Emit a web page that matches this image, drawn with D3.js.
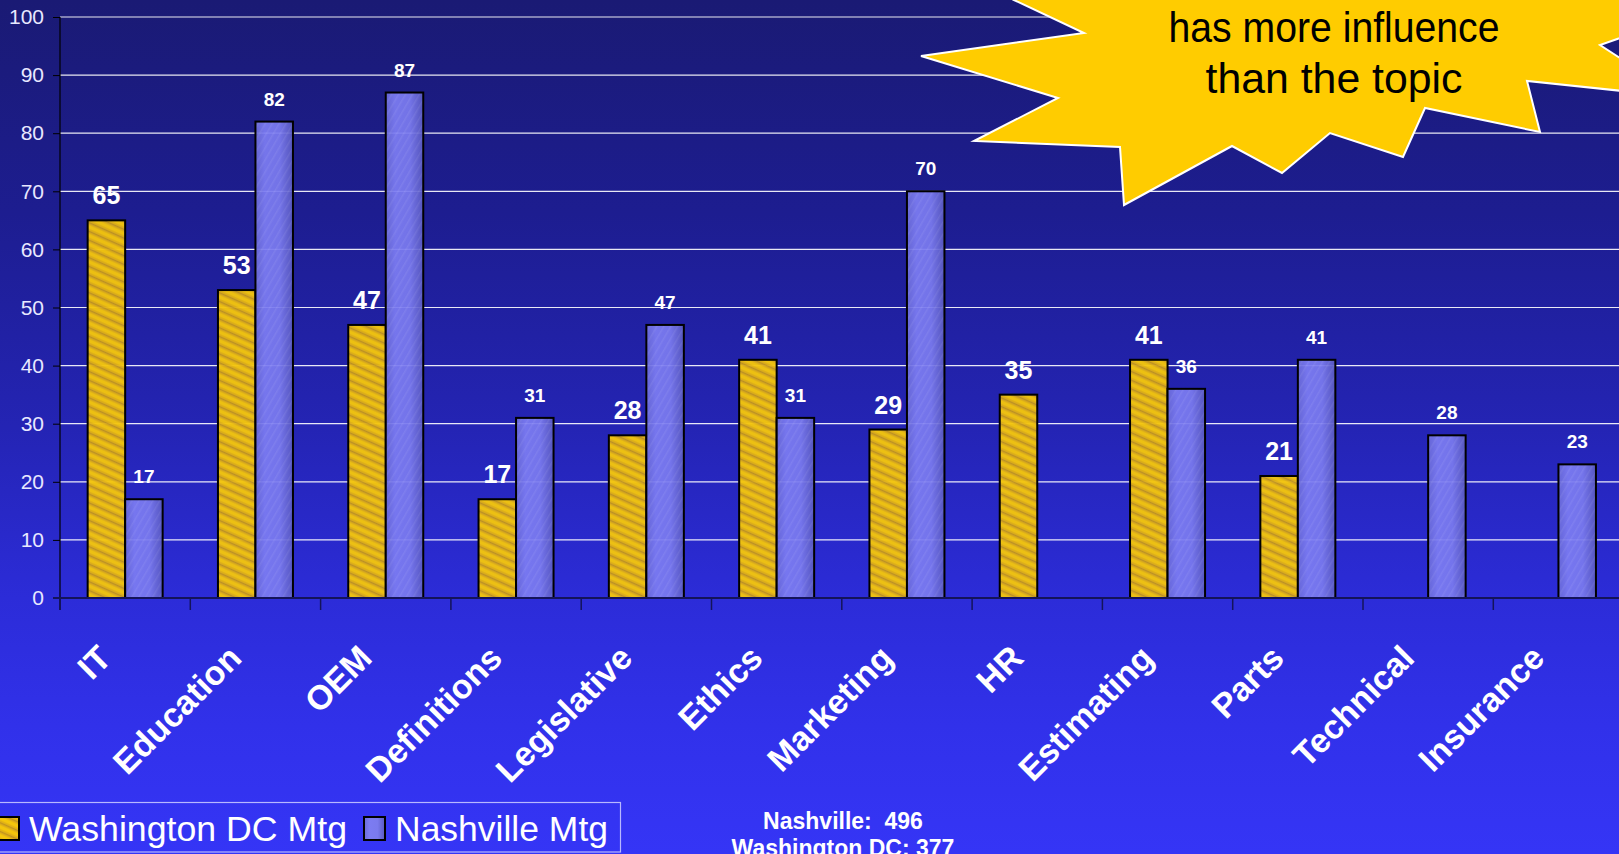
<!DOCTYPE html>
<html>
<head>
<meta charset="utf-8">
<script src="https://cdn.jsdelivr.net/npm/d3@7/dist/d3.min.js"></script>
<style>
  html, body { margin: 0; padding: 0; overflow: hidden; background: #2626c0; }
  svg { display: block; font-family: "Liberation Sans", Arial, sans-serif; }
</style>
</head>
<body>
<svg id="chart" width="1619" height="854"></svg>
<script>
// ---------- data ----------
const categories = ["IT", "Education", "OEM", "Definitions", "Legislative", "Ethics",
                    "Marketing", "HR", "Estimating", "Parts", "Technical", "Insurance"];
const seriesNames = ["Washington DC Mtg", "Nashville Mtg"];
const washingtonValues = [65, 53, 47, 17, 28, 41, 29, 35, 41, 21, null, null];
const nashvilleValues  = [17, 82, 87, 31, 47, 31, 70, null, 36, 41, 28, 23];
const yTicks = [0, 10, 20, 30, 40, 50, 60, 70, 80, 90, 100];
const calloutLines = ["has more influence", "than the topic"];
const totalLines = ["Nashville:  496", "Washington DC: 377"];

// ---------- layout ----------
const W = 1619, H = 854;
const plotLeft = 60, plotTop = 17, plotBottom = 598;
const step = 130.3;
const svg = d3.select("#chart");
const defs = svg.append("defs");

// background gradient
const bg = defs.append("linearGradient").attr("id", "bg").attr("x1", 0).attr("y1", 0).attr("x2", 0).attr("y2", 1);
[[0, "#1a1a74"], [0.25, "#1d1d90"], [0.5, "#2424b4"], [0.7, "#2c2cd8"], [0.85, "#3131ea"], [1, "#3535f6"]]
  .forEach(([o, c]) => bg.append("stop").attr("offset", o).attr("stop-color", c));
svg.append("rect").attr("width", W).attr("height", H).attr("fill", "url(#bg)");

// yellow texture
const yp = defs.append("pattern").attr("id", "yellowTex").attr("patternUnits", "userSpaceOnUse")
  .attr("width", 12).attr("height", 8).attr("patternTransform", "rotate(24)");
yp.append("rect").attr("width", 12).attr("height", 8).attr("fill", "#d8a81a");
yp.append("rect").attr("y", 1.5).attr("width", 12).attr("height", 3.5).attr("fill", "#f4c60c");
yp.append("rect").attr("y", 5).attr("width", 12).attr("height", 1.5).attr("fill", "#e6b612");
yp.append("rect").attr("y", 7).attr("width", 12).attr("height", 1).attr("fill", "#c09420");

// blue gradient + texture
const bgBlue = defs.append("linearGradient").attr("id", "blueGrad").attr("x1", 0).attr("y1", 0).attr("x2", 1).attr("y2", 0);
[[0, "#6a6ad8"], [0.25, "#7c7cf2"], [0.65, "#7a7aee"], [1, "#5959c0"]]
  .forEach(([o, c]) => bgBlue.append("stop").attr("offset", o).attr("stop-color", c));
const bp = defs.append("pattern").attr("id", "blueTex").attr("patternUnits", "userSpaceOnUse")
  .attr("width", 6).attr("height", 6).attr("patternTransform", "rotate(-60)");
bp.append("rect").attr("width", 6).attr("height", 1.5).attr("fill", "#ffffff").attr("opacity", 0.07);

// ---------- scales ----------
const y = d3.scaleLinear().domain([0, 100]).range([plotBottom, plotTop]);
const x0 = d3.scaleBand().domain(categories).range([plotLeft, plotLeft + step * categories.length]).padding(0);
const half = 37.5;
const x1 = d3.scaleBand().domain(seriesNames)
  .range([x0.bandwidth() / 2 - half, x0.bandwidth() / 2 + half]).padding(0);

// gridlines
svg.append("g").selectAll("line").data(yTicks.filter(t => t > 0)).join("line")
  .attr("x1", plotLeft).attr("x2", W)
  .attr("y1", d => y(d)).attr("y2", d => y(d))
  .attr("stroke", "#ffffff").attr("stroke-width", 1.2).attr("opacity", 0.9);

// ---------- bars ----------
const rows = categories.map((c, i) => ({ cat: c, vals: [washingtonValues[i], nashvilleValues[i]] }));
const groups = svg.append("g").selectAll("g").data(rows).join("g")
  .attr("transform", d => `translate(${x0(d.cat)},0)`);

groups.each(function (d) {
  const g = d3.select(this);
  d.vals.forEach((v, si) => {
    if (v == null) return;
    const bx = x1(seriesNames[si]), bw = x1.bandwidth();
    if (si === 0) {
      g.append("rect").attr("x", bx).attr("y", y(v)).attr("width", bw).attr("height", y(0) - y(v))
        .attr("fill", "url(#yellowTex)").attr("fill-opacity", 0.96);
    } else {
      g.append("rect").attr("x", bx).attr("y", y(v)).attr("width", bw).attr("height", y(0) - y(v))
        .attr("fill", "url(#blueGrad)").attr("fill-opacity", 0.93);
      g.append("rect").attr("x", bx).attr("y", y(v)).attr("width", bw).attr("height", y(0) - y(v))
        .attr("fill", "url(#blueTex)");
    }
    g.append("rect").attr("x", bx).attr("y", y(v)).attr("width", bw).attr("height", y(0) - y(v))
      .attr("fill", "none").attr("stroke", "#000").attr("stroke-width", 2);
    g.append("text")
      .attr("x", bx + bw / 2).attr("y", y(v) - 16)
      .attr("text-anchor", "middle").attr("fill", "#fff").attr("font-weight", "bold")
      .attr("font-size", si === 0 ? 25 : 19)
      .text(v);
  });
});

// ---------- axes ----------
const yAxis = svg.append("g").attr("transform", `translate(${plotLeft},0)`)
  .call(d3.axisLeft(y).tickValues(yTicks).tickSize(7).tickPadding(9));
yAxis.select(".domain").attr("stroke", "#000").attr("stroke-width", 1.2)
  .attr("d", `M0,${plotTop}V${plotBottom + 12}`);
yAxis.selectAll(".tick line").attr("stroke", "#000");
yAxis.selectAll(".tick text").attr("fill", "#e8e8ff").attr("font-size", 21)
  .attr("font-family", "Liberation Sans, Arial, sans-serif");

// x axis line and ticks at band boundaries
svg.append("line").attr("x1", plotLeft - 7).attr("x2", W).attr("y1", plotBottom).attr("y2", plotBottom)
  .attr("stroke", "#14145a").attr("stroke-width", 2);
svg.append("g").selectAll("line").data(categories).join("line")
  .attr("x1", d => x0(d)).attr("x2", d => x0(d))
  .attr("y1", plotBottom).attr("y2", plotBottom + 12)
  .attr("stroke", "#14145a").attr("stroke-width", 1.5);

// category labels
svg.append("g").selectAll("text").data(categories).join("text")
  .attr("transform", d => `translate(${x0(d) + x0.bandwidth() / 2 - 12},${660}) rotate(-45)`)
  .attr("text-anchor", "end").attr("fill", "#fff").attr("font-weight", "bold").attr("font-size", 34)
  .text(d => d);

// ---------- starburst callout ----------
const starPts = [[950, -30], [1014, 0], [1084, 33], [921, 56], [1058, 98], [974, 141], [1120, 147],
  [1124, 205], [1232, 146], [1282, 173], [1330, 133], [1403, 157], [1425, 108], [1540, 132],
  [1527, 81], [1680, 97], [1600, 45], [1700, 10], [1680, -30]];
svg.append("path").attr("d", d3.line()(starPts) + "Z")
  .attr("fill", "#ffcc00").attr("stroke", "#ffffff").attr("stroke-width", 2).attr("stroke-linejoin", "miter");
const calloutLen = [331, 257];
svg.append("g").selectAll("text").data(calloutLines).join("text")
  .attr("x", 1334).attr("y", (d, i) => 41.7 + i * 51.6)
  .attr("text-anchor", "middle").attr("font-size", 43).attr("fill", "#000")
  .attr("textLength", (d, i) => calloutLen[i]).attr("lengthAdjust", "spacingAndGlyphs")
  .text(d => d);

// ---------- legend ----------
const lg = svg.append("g");
lg.append("rect").attr("x", -1).attr("y", 802.5).attr("width", 621.5).attr("height", 49.5)
  .attr("fill", "none").attr("stroke", "#b8b8ff").attr("stroke-width", 1.2);
const legendItems = [
  { name: seriesNames[0], sx: -2, tx: 29, tl: 318, fill: "url(#yellowTex)" },
  { name: seriesNames[1], sx: 364, tx: 395, tl: 213, fill: "url(#blueGrad)" }
];
legendItems.forEach(it => {
  lg.append("rect").attr("x", it.sx).attr("y", 817).attr("width", 21).attr("height", 23)
    .attr("fill", it.fill).attr("stroke", "#000").attr("stroke-width", 2);
  lg.append("text").attr("x", it.tx).attr("y", 841).attr("fill", "#fff").attr("font-size", 35)
    .attr("textLength", it.tl).attr("lengthAdjust", "spacingAndGlyphs")
    .text(it.name);
});

// totals
svg.append("g").selectAll("text").data(totalLines).join("text")
  .attr("x", 843).attr("y", (d, i) => 829 + i * 26.5)
  .attr("text-anchor", "middle").attr("fill", "#fff").attr("font-weight", "bold").attr("font-size", 23)
  .style("white-space", "pre")
  .text(d => d);
</script>
</body>
</html>
